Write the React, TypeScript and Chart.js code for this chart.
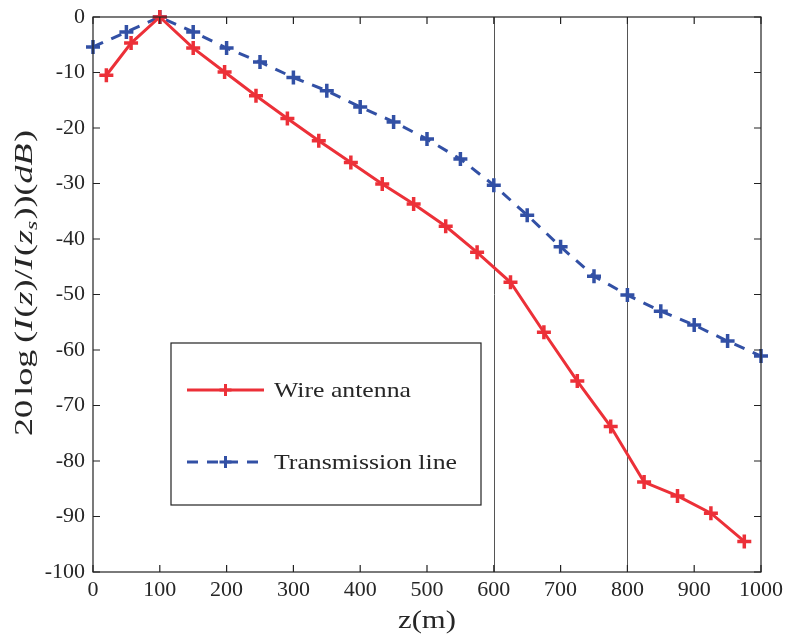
import React, { useEffect, useRef } from "react";
import { Chart, registerables } from "chart.js";

Chart.register(...registerables);

const zWire = [20, 57, 100, 150, 197, 244, 291, 338, 386, 433, 480, 528, 575, 625, 675, 725, 775, 825, 875, 925, 975];
const wireDb = [-10.5, -4.7, 0, -5.6, -9.9, -14.2, -18.3, -22.3, -26.2, -30.1, -33.7, -37.7, -42.4, -47.8, -56.8, -65.6, -73.8, -83.8, -86.3, -89.4, -94.5];
const zLine = [0, 50, 100, 150, 200, 250, 300, 350, 400, 450, 500, 550, 600, 650, 700, 750, 800, 850, 900, 950, 1000];
const lineDb = [-5.4, -2.7, 0, -2.7, -5.6, -8.1, -10.9, -13.3, -16.2, -18.9, -22.0, -25.6, -30.3, -35.7, -41.4, -46.7, -50.1, -53.0, -55.5, -58.4, -61.1];
const markerLinesZ = [600, 800];
const seriesNames = ["Wire antenna", "Transmission line"];
const xTitle = "z(m)";

const RED = "rgb(236,48,56)";
const BLUE = "rgb(50,80,165)";
const FONT = "'Liberation Serif', 'DejaVu Serif', serif";
const TEXT = "#262626";

// draw text stretched horizontally by sx (to mimic the wider Computer Modern face)
function stretchedText(ctx: any, text: string, x: number, y: number, sx: number, align: string) {
  const w = ctx.measureText(text).width * sx;
  const startX = align === "center" ? x - w / 2 : align === "right" ? x - w : x;
  ctx.save();
  ctx.translate(startX, y);
  ctx.scale(sx, 1);
  ctx.textAlign = "left";
  ctx.fillText(text, 0, 0);
  ctx.restore();
}

const framePlugin = {
  id: "frame",
  beforeDatasetsDraw(chart: any) {
    const { ctx, chartArea, scales } = chart;
    ctx.save();
    ctx.strokeStyle = "#555";
    ctx.lineWidth = 1;
    for (const z of markerLinesZ) {
      const px = Math.round(scales.x.getPixelForValue(z)) + 0.5;
      ctx.beginPath();
      ctx.moveTo(px, chartArea.top);
      ctx.lineTo(px, chartArea.bottom);
      ctx.stroke();
    }
    ctx.restore();
  },
  afterDraw(chart: any) {
    const { ctx, chartArea, scales } = chart;
    const { left, right, top, bottom } = chartArea;
    ctx.save();
    ctx.strokeStyle = "#222";
    ctx.lineWidth = 1.2;
    ctx.strokeRect(left, top, right - left, bottom - top);
    const tl = 7;
    ctx.beginPath();
    scales.x.ticks.forEach((t: any) => {
      const px = scales.x.getPixelForValue(t.value);
      ctx.moveTo(px, bottom);
      ctx.lineTo(px, bottom - tl);
      ctx.moveTo(px, top);
      ctx.lineTo(px, top + tl);
    });
    scales.y.ticks.forEach((t: any) => {
      const py = scales.y.getPixelForValue(t.value);
      ctx.moveTo(left, py);
      ctx.lineTo(left + tl, py);
      ctx.moveTo(right, py);
      ctx.lineTo(right - tl, py);
    });
    ctx.stroke();

    // Legend box
    const bx = left + 78, by = top + 326, bw = 310, bh = 162;
    ctx.fillStyle = "#fff";
    ctx.fillRect(bx, by, bw, bh);
    ctx.strokeStyle = "#222";
    ctx.lineWidth = 1.2;
    ctx.strokeRect(bx, by, bw, bh);
    const items = [
      { color: RED, dash: [] as number[], name: seriesNames[0], y: by + 47 },
      { color: BLUE, dash: [11, 9], name: seriesNames[1], y: by + 119 },
    ];
    ctx.font = `22px ${FONT}`;
    const legendSx = 137 / ctx.measureText(seriesNames[0]).width;
    items.forEach((it) => {
      const x0 = bx + 16, x1 = bx + 93;
      ctx.strokeStyle = it.color;
      ctx.lineWidth = 3;
      ctx.setLineDash(it.dash);
      ctx.beginPath();
      ctx.moveTo(x0, it.y);
      ctx.lineTo(x1, it.y);
      ctx.stroke();
      ctx.setLineDash([]);
      const cx = (x0 + x1) / 2;
      ctx.beginPath();
      ctx.moveTo(cx - 6, it.y);
      ctx.lineTo(cx + 6, it.y);
      ctx.moveTo(cx, it.y - 6);
      ctx.lineTo(cx, it.y + 6);
      ctx.stroke();
      ctx.fillStyle = TEXT;
      ctx.font = `22px ${FONT}`;
      ctx.textBaseline = "alphabetic";
      stretchedText(ctx, it.name, bx + 103, it.y + 7, legendSx, "left");
    });

    // X title
    ctx.font = `26px ${FONT}`;
    ctx.textBaseline = "alphabetic";
    ctx.fillStyle = TEXT;
    const xsx = 58 / ctx.measureText(xTitle).width;
    stretchedText(ctx, xTitle, (left + right) / 2, 628, xsx, "center");

    // Y title with mixed styles
    const parts: [string, string, number][] = [
      ["20", "n", 3], ["log", "n", 5], ["(", "n", 0], ["I", "i", 1], ["(", "n", 0], ["z", "i", 0], [")/", "n", 0],
      ["I", "i", 1], ["(", "n", 0], ["z", "i", 0], ["s", "sub", 1], ["))(", "n", 0], ["dB", "i", 1], [")", "n", 0],
    ];
    const fontFor = (s: string) =>
      s === "i" ? `italic 26px ${FONT}` : s === "sub" ? `italic 17px ${FONT}` : `26px ${FONT}`;
    let natural = 0;
    const nat = parts.map(([t, s, g]) => {
      ctx.font = fontFor(s);
      const w = ctx.measureText(t).width + g;
      natural += w;
      return w;
    });
    const target = 306;
    const ysx = target / natural;
    ctx.translate(32, 283);
    ctx.rotate(-Math.PI / 2);
    ctx.scale(ysx, 1);
    let x = -natural / 2;
    ctx.fillStyle = TEXT;
    ctx.textAlign = "left";
    parts.forEach(([t, s], idx) => {
      ctx.font = fontFor(s);
      ctx.fillText(t, x, s === "sub" ? 5 : 0);
      x += nat[idx];
    });
    ctx.restore();
  },
};

export default function App() {
  const ref = useRef<HTMLCanvasElement>(null);
  useEffect(() => {
    if (!ref.current) return;
    const chart = new Chart(ref.current, {
      type: "line",
      data: {
        datasets: [
          {
            label: seriesNames[0],
            data: zWire.map((z, i) => ({ x: z, y: wireDb[i] })),
            borderColor: RED,
            backgroundColor: RED,
            borderWidth: 3,
            pointStyle: "cross",
            pointRadius: 7,
            pointBorderWidth: 3.5,
            pointBorderColor: RED,
            fill: false,
            tension: 0,
            clip: false as any,
          },
          {
            label: seriesNames[1],
            data: zLine.map((z, i) => ({ x: z, y: lineDb[i] })),
            borderColor: BLUE,
            backgroundColor: BLUE,
            borderWidth: 3,
            borderDash: [11, 9],
            pointStyle: "cross",
            pointRadius: 7,
            pointBorderWidth: 3.5,
            pointBorderColor: BLUE,
            fill: false,
            tension: 0,
            clip: false as any,
          },
        ],
      },
      options: {
        animation: false,
        responsive: false,
        maintainAspectRatio: false,
        layout: { padding: { top: 17, right: 26, left: 0, bottom: 0 } },
        plugins: { legend: { display: false }, tooltip: { enabled: false } },
        scales: {
          x: {
            type: "linear",
            min: 0,
            max: 1000,
            ticks: {
              stepSize: 100,
              color: TEXT,
              font: { family: FONT, size: 22 },
              padding: 5,
              maxRotation: 0,
              callback: (v: any) => String(v),
            },
            grid: { drawOnChartArea: false, drawTicks: false },
            border: { display: false },
            afterFit: (s: any) => {
              s.height = 65;
              s.paddingLeft = 0;
              s.paddingRight = 0;
            },
          },
          y: {
            type: "linear",
            min: -100,
            max: 0,
            ticks: {
              stepSize: 10,
              color: TEXT,
              font: { family: FONT, size: 22 },
              padding: 8,
              callback: (v: any) => String(v),
            },
            grid: { drawOnChartArea: false, drawTicks: false },
            border: { display: false },
            afterFit: (s: any) => {
              s.width = 93;
              s.paddingTop = 0;
              s.paddingBottom = 0;
            },
          },
        },
      },
      plugins: [framePlugin],
    });
    return () => chart.destroy();
  }, []);
  return (
    <div style={{ position: "fixed", left: 0, top: 0, width: 787, height: 637, background: "#fff" }}>
      <canvas ref={ref} width={787} height={637} style={{ width: 787, height: 637 }} />
    </div>
  );
}
